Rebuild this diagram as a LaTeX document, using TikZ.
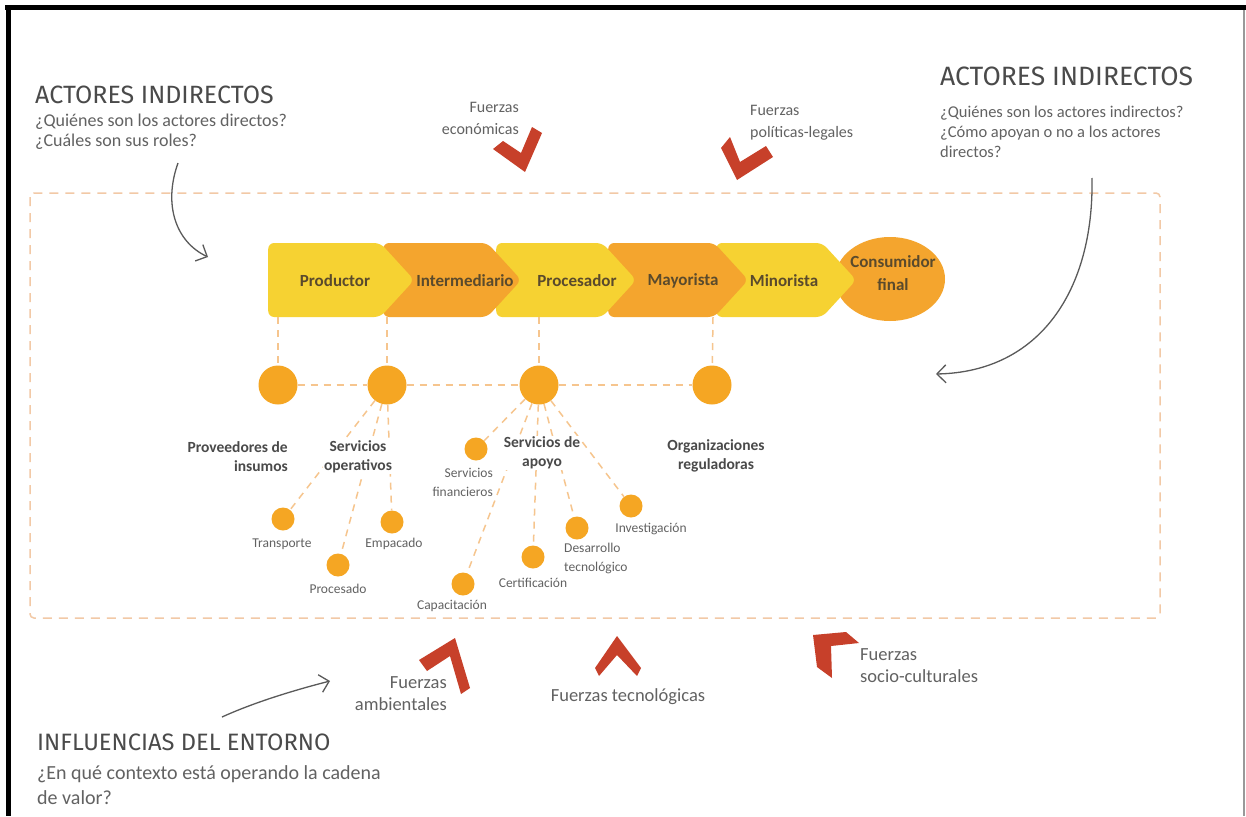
\documentclass[tikz,border=0pt]{standalone}
\usepackage{fontspec}
\setmainfont{Carlito}
\newfontfamily\handfont{Fira Sans}
\usetikzlibrary{shapes.symbols,shapes.geometric,arrows.meta}

\definecolor{chainyellow}{HTML}{F6D232}
\definecolor{chainorange}{HTML}{F4A52E}
\definecolor{dotorange}{HTML}{F5A623}
\definecolor{dashpeach}{HTML}{F6C58E}
\definecolor{framepeach}{HTML}{F2C9A6}
\definecolor{forcered}{HTML}{C7402A}
\definecolor{chaintext}{HTML}{5A4A2C}
\definecolor{bodygray}{HTML}{626262}
\definecolor{headgray}{HTML}{4A4A4A}
\definecolor{pengray}{HTML}{5A5A5A}

\tikzset{
  linkstage/.style={signal, signal to=east, signal pointer angle=95,
    minimum height=74pt, inner sep=0pt, rounded corners=6pt, anchor=west},
  stageY/.style={linkstage, fill=chainyellow},
  stageO/.style={linkstage, fill=chainorange},
  stagetext/.style={font=\fontsize{17}{23}\selectfont\bfseries, text=chaintext, align=center},
  bigdot/.style={circle, fill=dotorange, minimum size=39pt, inner sep=0pt},
  smalldot/.style={circle, fill=dotorange, minimum size=23pt, inner sep=0pt},
  dashlink/.style={draw=dashpeach, line width=1.5pt, dash pattern=on 7pt off 6pt},
  grouplabel/.style={font=\fontsize{15.5}{19}\selectfont\bfseries, text=headgray, fill=white, inner sep=1pt},
  itemlabel/.style={font=\fontsize{13.5}{19}\selectfont, text=bodygray, fill=white, inner sep=1pt},
  forcelabel/.style={font=\fontsize{16}{22}\selectfont, text=bodygray, inner sep=0pt},
  lowforce/.style={forcelabel, font=\fontsize{18.5}{22}\selectfont},
  heading/.style={font=\handfont\fontsize{25}{28}\selectfont, text=headgray, anchor=west, inner sep=0pt},
  question/.style={font=\fontsize{16.5}{20}\selectfont, text=bodygray, anchor=west, align=left, inner sep=0pt},
  chevron/.style={fill=forcered, draw=none},
  penarrow/.style={draw=pengray, line width=1.3pt, -{Straight Barb[length=9pt,width=18pt,line width=1.3pt]}}
}

\begin{document}
\begin{tikzpicture}[x=1pt,y=-1pt]
\useasboundingbox (0,0) rectangle (1246,816);
\fill[white] (0,0) rectangle (1246,816);

% page frame
\draw[black, line width=5pt] (5,8) -- (1246,8);
\draw[black, line width=5pt] (8,6) -- (8,816);
\draw[gray!80, line width=1.6pt] (1244,10) -- (1244,816);

% environment frame
\draw[framepeach, line width=1.5pt, dash pattern=on 9pt off 7pt, rounded corners=4pt]
  (30,193) rectangle (1160,618);

% value chain (drawn right to left so each stage overlaps the next)
\node[ellipse, fill=chainorange, minimum width=110pt, minimum height=84pt, inner sep=0pt] (consumidor) at (890,279) {};
\node[stageY, minimum width=140pt] (minorista) at (716,280) {};
\node[stageO, minimum width=140pt] (mayorista) at (608,280) {};
\node[stageY, minimum width=140pt] (procesador) at (496,280) {};
\node[stageO, minimum width=138pt] (intermediario) at (383,280) {};
\node[stageY, minimum width=146pt] (productor) at (268,280) {};

\node[stagetext] (tProductor) at (335,281) {Productor};
\node[stagetext] (tIntermediario) at (465,281) {Intermediario};
\node[stagetext] (tProcesador) at (577,281) {Procesador};
\node[stagetext] (tMayorista) at (683,281) {Mayorista};
\node[stagetext] (tMinorista) at (784,281) {Minorista};
\node[stagetext] (tConsumidor) at (893,273) {Consumidor\\final};

% indirect actors
\coordinate (pProv) at (278,317);
\coordinate (pServOp) at (387,317);
\coordinate (pServAp) at (539,317);
\coordinate (pOrg) at (713,317);
\node[bigdot] (prov) at (278,385) {};
\node[bigdot] (servop) at (387,385) {};
\node[bigdot] (servap) at (539,385) {};
\node[bigdot] (org) at (712,385) {};

\draw[dashlink] (pProv) -- (prov);
\draw[dashlink] (pServOp) -- (servop);
\draw[dashlink] (pServAp) -- (servap);
\draw[dashlink] (pOrg) -- (org);
\draw[dashlink] (prov) -- (servop);
\draw[dashlink] (servop) -- (servap);
\draw[dashlink] (servap) -- (org);

% supporting services
\node[smalldot] (transporte) at (283,519) {};
\node[smalldot] (procesado) at (338,565) {};
\node[smalldot] (empacado) at (392,522) {};
\node[smalldot] (financieros) at (476,449) {};
\node[smalldot] (capacitacion) at (463,584) {};
\node[smalldot] (certificacion) at (533,557) {};
\node[smalldot] (desarrollo) at (577,528) {};
\node[smalldot] (investigacion) at (631,506) {};

\draw[dashlink] (servop) -- (transporte);
\draw[dashlink] (servop) -- (procesado);
\draw[dashlink] (servop) -- (empacado);
\draw[dashlink] (servap) -- (financieros);
\draw[dashlink] (servap) -- (capacitacion);
\draw[dashlink] (servap) -- (certificacion);
\draw[dashlink] (servap) -- (desarrollo);
\draw[dashlink] (servap) -- (investigacion);

\node[grouplabel, align=right, anchor=east] (lProv) at (289,457) {Proveedores de\\insumos};
\node[grouplabel, align=center] (lServOp) at (358,457) {Servicios\\operativos};
\node[grouplabel, align=center] (lServAp) at (542,453) {Servicios de\\apoyo};
\node[grouplabel, align=center] (lOrg) at (716,456) {Organizaciones\\reguladoras};

\node[itemlabel] (lTransporte) at (282,544) {Transporte};
\node[itemlabel] (lProcesado) at (338,589) {Procesado};
\node[itemlabel] (lEmpacado) at (394,544) {Empacado};
\node[itemlabel, align=right, anchor=east] (lFinancieros) at (494,482) {Servicios\\financieros};
\node[itemlabel] (lCapacitacion) at (452,606) {Capacitación};
\node[itemlabel] (lCertificacion) at (533,583) {Certificación};
\node[itemlabel, align=left, anchor=west] (lDesarrollo) at (563,558) {Desarrollo\\tecnológico};
\node[itemlabel] (lInvestigacion) at (651,529) {Investigación};

% environmental forces
\fill[chevron] (493,149) -- (503,141) -- (521,153) -- (532,127) -- (542,133) -- (525,172) -- cycle;
\fill[chevron] (721,148) -- (730,137) -- (740,162) -- (766,146) -- (773,157) -- (737,180) -- cycle;
\fill[chevron] (419,660) -- (455,638) -- (470,688) -- (461,694) -- (450,656) -- (427,671) -- cycle;
\fill[chevron] (595,668) -- (617,636) -- (641,668) -- (637,676) -- (617,655) -- (599,676) -- cycle;
\fill[chevron] (813,635) -- (846,632) -- (859,643) -- (831,646) -- (832,678) -- (817,667) -- cycle;

\node[forcelabel, align=right, anchor=east] (fEcon) at (519,118) {Fuerzas\\económicas};
\node[forcelabel, align=left, anchor=west] (fPol) at (750,123) {Fuerzas\\políticas-legales};
\node[lowforce, align=right, anchor=east] (fAmb) at (447,694) {Fuerzas\\ambientales};
\node[lowforce] (fTec) at (628,697) {Fuerzas tecnológicas};
\node[lowforce, align=left, anchor=west] (fSoc) at (860,666) {Fuerzas\\socio-culturales};

% guiding questions
\node[heading] (hLeft) at (35,95) {ACTORES INDIRECTOS};
\node[question, font=\fontsize{18}{20}\selectfont] (qLeft) at (35,132) {¿Quiénes son los actores directos?\\¿Cuáles son sus roles?};
\node[heading, font=\handfont\fontsize{26.5}{28}\selectfont] (hRight) at (940,76) {ACTORES INDIRECTOS};
\node[question] (qRight) at (940,132) {¿Quiénes son los actores indirectos?\\¿Cómo apoyan o no a los actores\\directos?};
\node[heading, font=\handfont\fontsize{23.7}{28}\selectfont] (hBottom) at (37,742) {INFLUENCIAS DEL ENTORNO};
\node[question, font=\fontsize{20}{25}\selectfont] (qBottom) at (37,785) {¿En qué contexto está operando la cadena\\de valor?};

% hand-drawn pointers
\coordinate (aLeftStart) at (178,163);
\coordinate (aLeftEnd) at (208,257);
\draw[penarrow] (aLeftStart) .. controls (163,205) and (176,242) .. (aLeftEnd);
\coordinate (aRightStart) at (1092,178);
\coordinate (aRightEnd) at (936,374);
\draw[penarrow] (aRightStart) .. controls (1094,290) and (1040,372) .. (aRightEnd);
\coordinate (aBottomStart) at (222,717);
\coordinate (aBottomEnd) at (330,681);
\draw[penarrow] (aBottomStart) .. controls (255,702) and (295,690) .. (aBottomEnd);
\end{tikzpicture}
\end{document}
